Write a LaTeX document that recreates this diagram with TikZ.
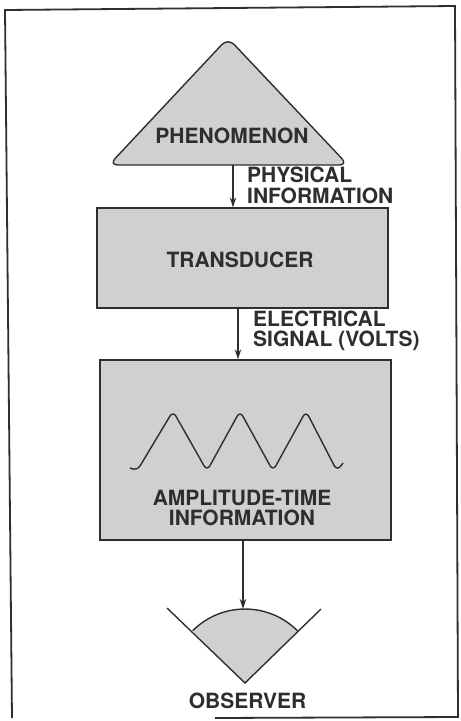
\documentclass[tikz,border=0pt]{standalone}
\usepackage{fontspec}
\setmainfont{TeX Gyre Heros}
\usetikzlibrary{arrows.meta}
\definecolor{ink}{HTML}{2E2E2E}
\definecolor{boxfill}{HTML}{D0D0D0}
\tikzset{
  lbl/.style={text=ink, font=\fontsize{21}{20.5}\selectfont\bfseries, inner sep=0pt},
  shapeline/.style={draw=ink, line width=1.4pt},
  boxstyle/.style={shapeline, fill=boxfill, rectangle, inner sep=0pt},
  flow/.style={draw=ink, line width=1.1pt, -{Stealth[length=10pt,width=6.5pt]}},
}
\begin{document}
\begin{tikzpicture}[x=1pt,y=-1pt]
\useasboundingbox (0,0) rectangle (461,721);
% frame
\draw[ink, line width=1.8pt] (215,718) -- (458,717) -- (455,6) -- (5,10) -- (12,718);
% phenomenon triangle
\draw[shapeline, fill=boxfill, rounded corners=9pt] (228,38) -- (348,165) -- (109,165) -- cycle;
\coordinate (phenbottom) at (233,165);
\node[lbl] (phen) at (232,136) {PHENOMENON};
% transducer
\node[boxstyle, minimum width=291pt, minimum height=100pt] (trans) at (242.5,258) {};
\node[lbl] (transtxt) at (240,260) {TRANSDUCER};
% amplitude-time box
\node[boxstyle, minimum width=291pt, minimum height=180pt] (amp) at (245.5,450) {};
\node[lbl, align=center] (amptxt) at (242,508) {AMPLITUDE-TIME\\INFORMATION};
% wave
\draw[ink, line width=1.4pt, rounded corners=6pt]
  (130,468) -- (137,471) -- (173,411) -- (207,471) -- (240,411) -- (273,471) -- (306,411) -- (337,471) -- (343,463);
% observer
\coordinate (obsv) at (245,683);
\coordinate (obsl) at (167,608);
\coordinate (obsr) at (321,609);
\coordinate (obstop) at (245,609);
\fill[boxfill] (obsv) -- (192.7,630.7) arc[start angle=-135, end angle=-45, radius=74] -- cycle;
\draw[shapeline] (192.7,630.7) arc[start angle=-135, end angle=-45, radius=74];
\draw[shapeline] (obsl) -- (obsv) -- (obsr);
\node[lbl] (obs) at (247.5,701) {OBSERVER};
% connectors
\draw[flow] (phenbottom) -- (phenbottom |- trans.north);
\coordinate (transout) at (238,308);
\draw[flow] (transout) -- (transout |- amp.north);
\coordinate (ampout) at (243,540);
\draw[flow] (ampout) -- (ampout |- obstop);
% labels
\node[lbl, align=left, anchor=west] (physlbl) at (247,185.5) {PHYSICAL\\INFORMATION};
\node[lbl, align=left, anchor=west] (eleclbl) at (253,331) {ELECTRICAL\\SIGNAL (VOLTS)};
\end{tikzpicture}
\end{document}
